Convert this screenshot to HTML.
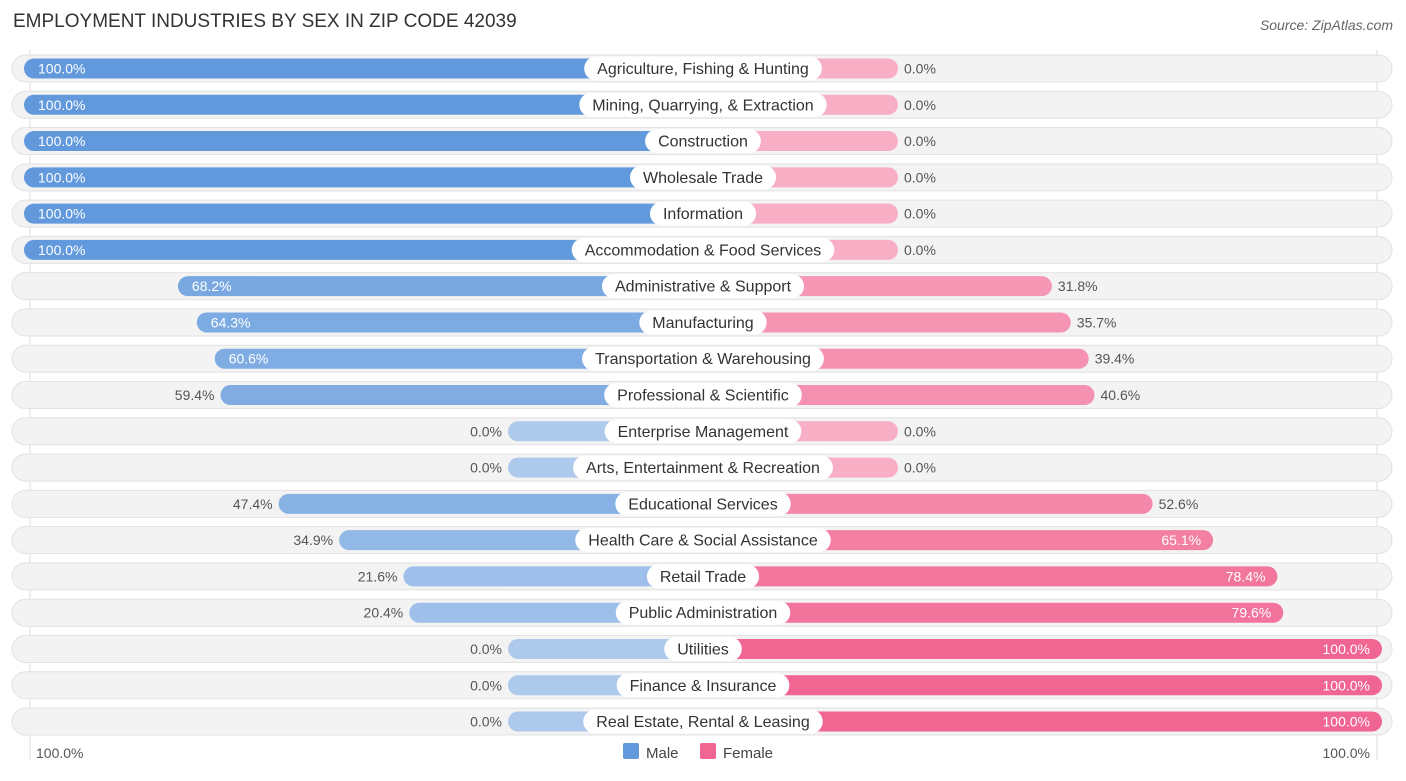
<!DOCTYPE html>
<html><head><meta charset="utf-8">
<style>
body{margin:0;background:#fff;font-family:"Liberation Sans",sans-serif;}
svg text{font-family:"Liberation Sans",sans-serif;}
</style></head>
<body>
<svg id="chart" width="1406" height="776">
<text x="13" y="27" font-size="19" fill="#333">EMPLOYMENT INDUSTRIES BY SEX IN ZIP CODE 42039</text>
<text x="1393" y="30" font-size="14" fill="#666" font-style="italic" text-anchor="end">Source: ZipAtlas.com</text>
<line x1="30" y1="50" x2="30" y2="760" stroke="#ddd"/>
<line x1="1377" y1="50" x2="1377" y2="760" stroke="#ddd"/>
<g id="rows"></g>
<text x="36" y="758" font-size="14" fill="#555">100.0%</text>
<text x="1370" y="758" font-size="14" fill="#555" text-anchor="end">100.0%</text>
<rect x="623" y="743" width="16" height="16" rx="2" fill="#6199dc"/>
<text x="646" y="758" font-size="15" fill="#444">Male</text>
<rect x="700" y="743" width="16" height="16" rx="2" fill="#f06591"/>
<text x="723" y="758" font-size="15" fill="#444">Female</text>
</svg>
<script>
const categories=["Agriculture, Fishing & Hunting","Mining, Quarrying, & Extraction","Construction","Wholesale Trade","Information","Accommodation & Food Services","Administrative & Support","Manufacturing","Transportation & Warehousing","Professional & Scientific","Enterprise Management","Arts, Entertainment & Recreation","Educational Services","Health Care & Social Assistance","Retail Trade","Public Administration","Utilities","Finance & Insurance","Real Estate, Rental & Leasing"];
const maleValues=[100,100,100,100,100,100,68.2,64.3,60.6,59.4,0,0,47.4,34.9,21.6,20.4,0,0,0];
const femaleValues=[0,0,0,0,0,0,31.8,35.7,39.4,40.6,0,0,52.6,65.1,78.4,79.6,100,100,100];
const NS="http://www.w3.org/2000/svg";
const cx=703, stub=195, full=679, y0=68.5, step=36.28;
function w(v){return stub+(full-stub)*v/100;}
function mix(a,b,t){return "rgb("+a.map((c,i)=>Math.round(b[i]+(c-b[i])*t)).join(",")+")";}
function mk(tag,attrs,parent){const e=document.createElementNS(NS,tag);for(const k in attrs)e.setAttribute(k,attrs[k]);parent.appendChild(e);return e;}
const g=document.getElementById("rows");
categories.forEach((cat,i)=>{
  const y=y0+i*step;
  const row=mk("g",{},g);
  
  
  const bg=mk("rect",{x:12,y:y-13.5,width:1380,height:27,rx:13.5,fill:"#f3f3f3",stroke:"#e2e2e2"},row);
  
  
  const mv=maleValues[i], fv=femaleValues[i];
  const mw=w(mv), fw=w(fv);
  const mb=mk("rect",{x:cx-mw,y:y-10,width:mw,height:20,rx:10,fill:mix([97,153,220],[173,201,236],mv/100)},row);
  
  
  const fb=mk("rect",{x:cx,y:y-10,width:fw,height:20,rx:10,fill:mix([240,101,145],[248,175,198],fv/100)},row);
  
  
  const ml=mk("text",{"font-size":14,y:y+5},row);
  ml.textContent=mv.toFixed(1)+"%";
  if(mv>=60){ml.setAttribute("x",cx-mw+14);ml.setAttribute("fill","#fff");}
  else{ml.setAttribute("x",cx-mw-6);ml.setAttribute("text-anchor","end");ml.setAttribute("fill","#555");}
  
  
  const fl=mk("text",{"font-size":14,y:y+5},row);
  fl.textContent=fv.toFixed(1)+"%";
  if(fv>=65){fl.setAttribute("x",cx+fw-12);fl.setAttribute("text-anchor","end");fl.setAttribute("fill","#fff");}
  else{fl.setAttribute("x",cx+fw+6);fl.setAttribute("fill","#555");}
  
  
  const lt=mk("text",{x:cx,y:y+5.5,"font-size":16,"text-anchor":"middle",fill:"#333"},row);
  lt.textContent=cat;
  const bw=lt.getComputedTextLength()+26;
  const pill=mk("rect",{x:cx-bw/2,y:y-12,width:bw,height:24,rx:12,fill:"#fff"},row);
  row.insertBefore(pill,lt);
  
  
  
  
});
</script>
</body></html>
